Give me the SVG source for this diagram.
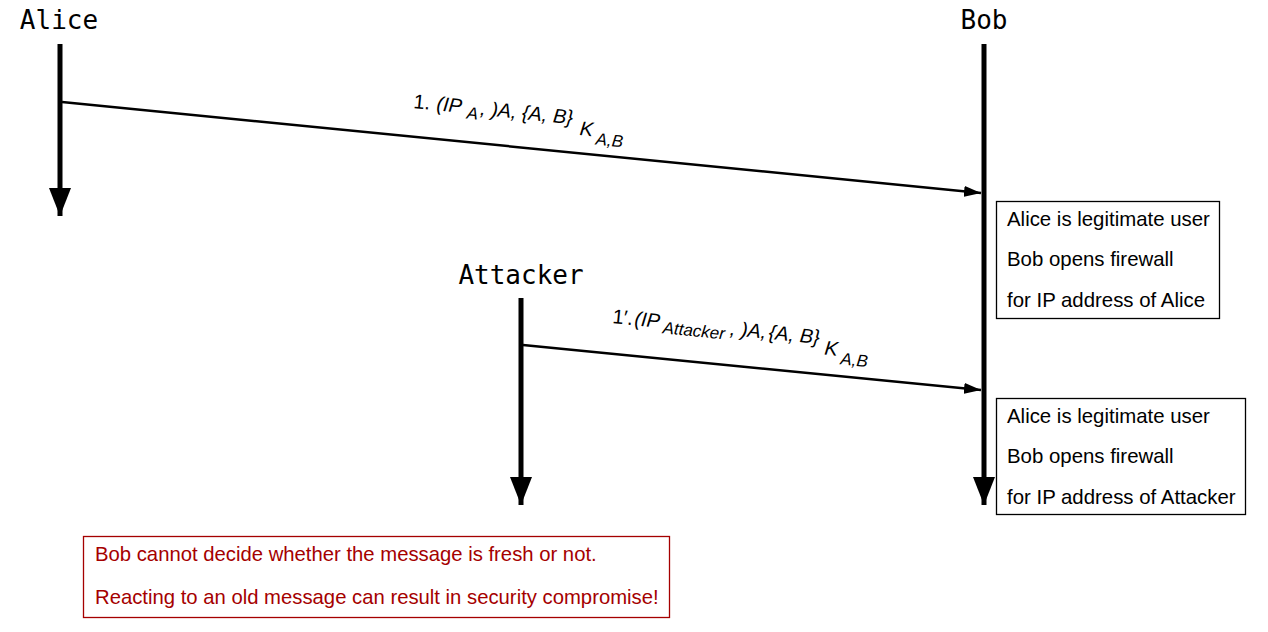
<svg xmlns="http://www.w3.org/2000/svg" width="1268" height="632" viewBox="0 0 1268 632">
<style>
.actor{font-family:"DejaVu Sans Mono","Liberation Mono",monospace;font-size:26px;fill:#000;text-anchor:middle}
.life{stroke:#000;stroke-width:5;fill:none}
.msg{stroke:#000;stroke-width:2.5;fill:none}
.lbl{font-family:"Liberation Sans",Arial,sans-serif;font-size:20px;fill:#000}
.it{font-style:italic}
.sub{font-style:italic;font-size:17px}
.note{fill:#fff;stroke:#000;stroke-width:1.3}
.nt{font-family:"Liberation Sans",Arial,sans-serif;font-size:20.4px;fill:#000}
.warn{fill:#fff;stroke:#a50000;stroke-width:1.3}
.wt{font-family:"Liberation Sans",Arial,sans-serif;font-size:20.3px;fill:#a50000}
</style>
<defs>
<marker id="lifeHead" markerUnits="userSpaceOnUse" viewBox="0 0 28 22" refX="28" refY="11" markerWidth="28" markerHeight="22" orient="auto">
<path d="M0,0 L28,11 L0,22 Z" fill="#000"/>
</marker>
<marker id="msgHead" markerUnits="userSpaceOnUse" viewBox="0 0 17 11" refX="17" refY="5.5" markerWidth="17" markerHeight="11" orient="auto">
<path d="M0,0 L17,5.5 L0,11 Z" fill="#000"/>
</marker>
</defs>
<rect width="1268" height="632" fill="#fff"/>

<g id="alice">
<text class="actor" x="59" y="29">Alice</text>
<line class="life" x1="60" y1="44" x2="60" y2="216" marker-end="url(#lifeHead)"/>
</g>
<g id="bob">
<text class="actor" x="984" y="29">Bob</text>
<line class="life" x1="984" y1="44" x2="984" y2="505" marker-end="url(#lifeHead)"/>
</g>
<g id="attacker">
<text class="actor" x="521" y="284">Attacker</text>
<line class="life" x1="521" y1="298" x2="521" y2="505" marker-end="url(#lifeHead)"/>
</g>

<g id="connectors">
<g id="msg1">
<line class="msg" x1="62" y1="102" x2="981" y2="193" marker-end="url(#msgHead)"/>
<text class="lbl" transform="translate(413,108) rotate(5.8)"><tspan x="0" y="0">1.</tspan><tspan class="it" x="23" y="0">(IP</tspan><tspan class="sub" x="54" y="5">A</tspan><tspan class="it" x="67" y="0">, )A,</tspan><tspan class="it" x="109" y="0">{A, B}</tspan><tspan class="it" x="168" y="10">K</tspan><tspan class="sub" x="185" y="18">A,B</tspan></text>
</g>
<g id="msg2">
<line class="msg" x1="523" y1="345" x2="981" y2="390" marker-end="url(#msgHead)"/>
<text class="lbl" transform="translate(612,323) rotate(5.8)"><tspan x="0" y="0">1′.</tspan><tspan class="it" x="22" y="0">(IP</tspan><tspan class="sub" x="51" y="5" font-size="14.5">Attacker</tspan><tspan class="it" x="118" y="0">, )A,</tspan><tspan class="it" x="157" y="0">{A, B}</tspan><tspan class="it" x="214" y="10">K</tspan><tspan class="sub" x="231" y="18">A,B</tspan></text>
</g>
</g>

<g id="note1">
<rect class="note" x="996.5" y="201.5" width="223" height="117"/>
<text class="nt" x="1007" y="226">Alice is legitimate user</text>
<text class="nt" x="1007" y="266">Bob opens firewall</text>
<text class="nt" x="1007" y="307">for IP address of Alice</text>
</g>
<g id="note2">
<rect class="note" x="996.5" y="398.5" width="249" height="116"/>
<text class="nt" x="1007" y="423">Alice is legitimate user</text>
<text class="nt" x="1007" y="463">Bob opens firewall</text>
<text class="nt" x="1007" y="504">for IP address of Attacker</text>
</g>
<g id="warning">
<rect class="warn" x="83.5" y="536.5" width="586" height="81"/>
<text class="wt" x="95" y="561">Bob cannot decide whether the message is fresh or not.</text>
<text class="wt" x="95" y="604">Reacting to an old message can result in security compromise!</text>
</g>
</svg>
